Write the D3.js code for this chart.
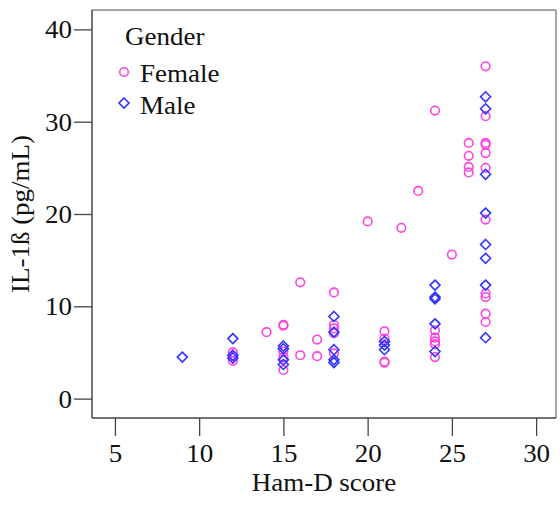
<!DOCTYPE html>
<html>
<head>
<meta charset="utf-8">
<script src="https://cdn.jsdelivr.net/npm/d3@7"></script>
<style>
  body { margin: 0; background: #fff; }
  text { font-family: "Liberation Serif", "Times New Roman", serif; fill: #111; }
</style>
</head>
<body>
<svg id="chart" width="560" height="507"></svg>
<script>
// ---- Data ----
const femaleScores = [12,12,12,14,15,15,15,15,15,16,16,17,17,18,18,18,18,18,20,21,21,21,21,22,23,24,24,24,24,24,24,25,26,26,26,26,27,27,27,27,27,27,27,27,27,27,27];
const femaleIL1b   = [5.0,4.6,4.1,7.2,8.0,7.9,5.1,4.5,3.1,12.6,4.7,6.4,4.6,11.5,8.0,7.6,7.1,4.9,19.2,7.3,6.5,4.0,3.9,18.5,22.5,31.2,7.4,6.6,6.2,5.9,4.5,15.6,27.7,26.3,25.1,24.5,36.0,30.6,27.7,27.5,26.6,25.0,19.4,11.4,11.0,9.2,8.3];
const maleScores   = [9,12,12,12,15,15,15,15,18,18,18,18,18,21,21,21,24,24,24,24,24,27,27,27,27,27,27,27,27];
const maleIL1b     = [4.5,6.5,4.7,4.4,5.7,5.4,4.2,3.7,8.9,7.2,5.3,4.2,3.9,6.2,5.8,5.3,12.3,11.0,10.8,8.1,5.1,32.7,31.4,24.3,20.1,16.7,15.2,12.3,6.6];
const xTicks = [5,10,15,20,25,30];
const yTicks = [0,10,20,30,40];
const legendTitle = "Gender";
const groupNames = ["Female","Male"];
const xTitle = "Ham-D score";
const yTitle = "IL-1ß (pg/mL)";

// ---- Layout ----
const W = 560, H = 507;
const plot = {left: 92, top: 10, right: 556, bottom: 418};
const colors = {Female: "#ff44dd", Male: "#3333ff"};
const fontSize = 25, stretch = 1.08;

const svg = d3.select("#chart");

const x = d3.scaleLinear().domain([3.64, 31.18]).range([plot.left, plot.right]);
const y = d3.scaleLinear().domain([-2.1, 42.1]).range([plot.bottom, plot.top]);

// Axes
const xAxis = svg.append("g")
  .attr("transform", `translate(0,${plot.bottom})`)
  .call(d3.axisBottom(x).tickValues(xTicks).tickSize(18).tickSizeOuter(0));
xAxis.select(".domain").remove();
xAxis.selectAll("line").attr("stroke", "#444").attr("stroke-width", 1.3);
xAxis.selectAll("text")
  .attr("y", 44).attr("dy", 0)
  .attr("transform", `scale(${stretch},1)`)
  .style("font-size", fontSize + "px")
  .style("font-family", '"Liberation Serif", "Times New Roman", serif')
  .attr("fill", "#111");

const yAxis = svg.append("g")
  .attr("transform", `translate(${plot.left},0)`)
  .call(d3.axisLeft(y).tickValues(yTicks).tickSize(18).tickSizeOuter(0));
yAxis.select(".domain").remove();
yAxis.selectAll("line").attr("stroke", "#444").attr("stroke-width", 1.3);
yAxis.selectAll("text")
  .attr("x", -20 / stretch).attr("dy", "0.34em")
  .attr("transform", `scale(${stretch},1)`)
  .style("font-size", fontSize + "px")
  .style("font-family", '"Liberation Serif", "Times New Roman", serif')
  .attr("fill", "#111");

// Frame
svg.append("line").attr("x1", plot.left).attr("x2", plot.right).attr("y1", plot.top).attr("y2", plot.top)
  .attr("stroke", "#888").attr("stroke-width", 1.5);
svg.append("line").attr("x1", plot.right).attr("x2", plot.right).attr("y1", plot.top).attr("y2", plot.bottom)
  .attr("stroke", "#888").attr("stroke-width", 1.5);
svg.append("line").attr("x1", plot.left).attr("x2", plot.right).attr("y1", plot.bottom).attr("y2", plot.bottom)
  .attr("stroke", "#444").attr("stroke-width", 1.5);
svg.append("line").attr("x1", plot.left).attr("x2", plot.left).attr("y1", plot.top).attr("y2", plot.bottom)
  .attr("stroke", "#444").attr("stroke-width", 1.5);

// Axis titles
svg.append("text")
  .attr("transform", `translate(${(plot.left + plot.right) / 2},491) scale(${stretch},1)`)
  .attr("text-anchor", "middle")
  .style("font-size", fontSize + "px")
  .text(xTitle);
svg.append("text")
  .attr("transform", `translate(29,${(plot.top + plot.bottom) / 2}) rotate(-90) scale(${stretch},1)`)
  .attr("text-anchor", "middle")
  .style("font-size", fontSize + "px")
  .text(yTitle);

// Marks
const female = femaleScores.map((s, i) => ({s, v: femaleIL1b[i]}));
const male = maleScores.map((s, i) => ({s, v: maleIL1b[i]}));
const diamond = "M0,-5L5,0L0,5L-5,0Z";

svg.append("g").selectAll("circle").data(female).join("circle")
  .attr("cx", d => x(d.s)).attr("cy", d => y(d.v)).attr("r", 4.3)
  .attr("fill", "none").attr("stroke", colors.Female).attr("stroke-width", 1.6);

svg.append("g").selectAll("path").data(male).join("path")
  .attr("d", diamond)
  .attr("transform", d => `translate(${x(d.s)},${y(d.v)})`)
  .attr("fill", "none").attr("stroke", colors.Male).attr("stroke-width", 1.6);

// Legend
const lg = svg.append("g");
lg.append("text").attr("transform", `translate(125,45) scale(${stretch},1)`)
  .style("font-size", fontSize + "px").text(legendTitle);
lg.append("circle").attr("cx", 124).attr("cy", 72).attr("r", 4.3)
  .attr("fill", "none").attr("stroke", colors.Female).attr("stroke-width", 1.6);
lg.append("text").attr("transform", `translate(140,82) scale(${stretch},1)`)
  .style("font-size", fontSize + "px").text(groupNames[0]);
lg.append("path").attr("d", diamond).attr("transform", "translate(124,103)")
  .attr("fill", "none").attr("stroke", colors.Male).attr("stroke-width", 1.6);
lg.append("text").attr("transform", `translate(140,114) scale(${stretch},1)`)
  .style("font-size", fontSize + "px").text(groupNames[1]);
</script>
</body>
</html>
